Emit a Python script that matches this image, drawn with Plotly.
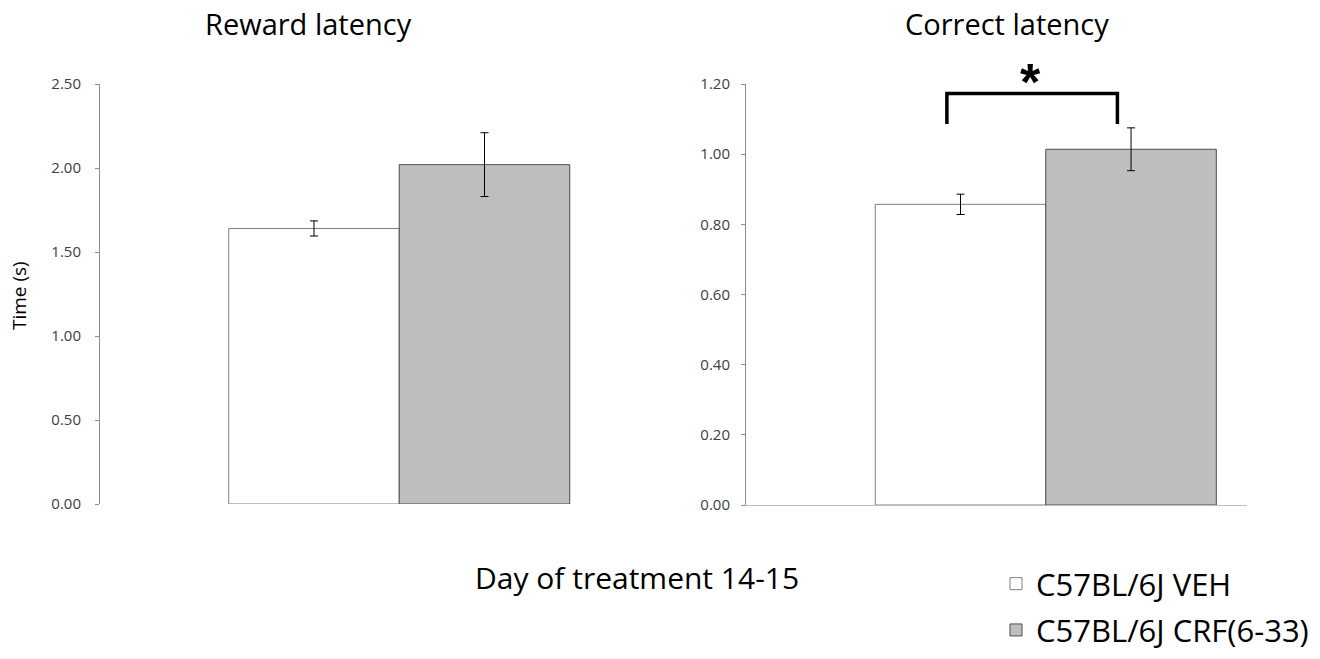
import plotly.graph_objects as go

W, H = 1320, 659

groups = ["C57BL/6J VEH", "C57BL/6J CRF(6-33)"]
group_keys = ["VEH", "CRF"]
fill_colors = ["#FFFFFF", "#BEBEBE"]
line_colors = ["#7F7F7F", "#4D4D4D"]

reward_means = [1.64, 2.02]
reward_sem = [0.045, 0.19]
correct_means = [0.857, 1.014]
correct_sem = [0.029, 0.061]

reward_ticks = [0.0, 0.5, 1.0, 1.5, 2.0, 2.5]
correct_ticks = [0.0, 0.2, 0.4, 0.6, 0.8, 1.0, 1.2]

FONT = "Open Sans"

def px(x):
    return x / W

def py(y):
    return 1 - y / H

fig = go.Figure()

for i, g in enumerate(groups):
    fig.add_trace(go.Bar(
        x=[group_keys[i]], y=[reward_means[i]], name=g, width=1,
        marker=dict(color=fill_colors[i], line=dict(color=line_colors[i], width=1)),
        error_y=dict(type="data", array=[reward_sem[i]], color="#000000", thickness=1, width=4),
        xaxis="x", yaxis="y", showlegend=True, legendgroup=g,
    ))
for i, g in enumerate(groups):
    fig.add_trace(go.Bar(
        x=[group_keys[i]], y=[correct_means[i]], name=g, width=1,
        marker=dict(color=fill_colors[i], line=dict(color=line_colors[i], width=1)),
        error_y=dict(type="data", array=[correct_sem[i]], color="#000000", thickness=1, width=4),
        xaxis="x2", yaxis="y2", showlegend=False, legendgroup=g,
    ))

common_y = dict(
    showgrid=False, zeroline=False, showline=True, linecolor="#8C8C8C", linewidth=1,
    ticks="outside", ticklen=4, tickcolor="#8C8C8C",
    tickfont=dict(family=FONT, size=15, color="#404040"),
)

fig.update_layout(
    width=W, height=H,
    margin=dict(l=0, r=0, t=0, b=0, autoexpand=False),
    paper_bgcolor="white", plot_bgcolor="rgba(0,0,0,0)",
    barmode="overlay",
    font=dict(family=FONT, color="#000000"),
    xaxis=dict(domain=[px(100), px(699)], range=[-1.255, 2.258], type="category",
               categoryorder="array", categoryarray=group_keys,
               showticklabels=False, ticks="", showline=False, showgrid=False, zeroline=False),
    yaxis=dict(domain=[py(504), py(84)], range=[0, 2.5], tickvals=reward_ticks,
               ticktext=[f"{v:.2f}" for v in reward_ticks], ticklabelstandoff=11, **common_y),
    xaxis2=dict(domain=[px(746), px(1247)], range=[-1.258, 1.68], type="category",
                categoryorder="array", categoryarray=group_keys, anchor="y2",
                showticklabels=False, ticks="", showline=True, linecolor="#BFBFBF",
                linewidth=1, showgrid=False, zeroline=False),
    yaxis2=dict(domain=[py(505), py(84)], range=[0, 1.2], tickvals=correct_ticks, anchor="x2",
                ticktext=[f"{v:.2f}" for v in correct_ticks], ticklabelstandoff=8, **common_y),
    legend=dict(x=px(996), y=py(557), xanchor="left", yanchor="top",
                font=dict(family=FONT, size=31, color="#000000"),
                tracegroupgap=3, bgcolor="rgba(0,0,0,0)", itemwidth=30),
)

annotations = [
    dict(text="Reward latency", x=px(308), y=py(24), xref="paper", yref="paper",
         showarrow=False, font=dict(family=FONT, size=29, color="#000000"),
         xanchor="center", yanchor="middle"),
    dict(text="Correct latency", x=px(1007), y=py(24), xref="paper", yref="paper",
         showarrow=False, font=dict(family=FONT, size=29, color="#000000"),
         xanchor="center", yanchor="middle"),
    dict(text="Time (s)", x=px(19), y=py(296), xref="paper", yref="paper", textangle=-90,
         showarrow=False, font=dict(family=FONT, size=19, color="#000000"),
         xanchor="center", yanchor="middle"),
    dict(text="Day of treatment 14-15", x=px(637), y=py(577), xref="paper", yref="paper",
         showarrow=False, font=dict(family=FONT, size=30, color="#000000"),
         xanchor="center", yanchor="middle"),
    dict(text="<b>*</b>", x=px(1030), y=py(82), xref="paper", yref="paper",
         showarrow=False, font=dict(family="Liberation Sans", size=52, color="#000000"),
         xanchor="center", yanchor="middle"),
]
fig.update_layout(annotations=annotations)

# significance bracket
fig.add_shape(type="path", xref="x2", yref="y2",
              path="M -0.08,1.086 L -0.08,1.173 L 0.92,1.173 L 0.92,1.086",
              line=dict(color="#000000", width=3.5))

fig.write_html("out.html", config={"displayModeBar": False},
               post_script="document.body.style.margin='0px';")
